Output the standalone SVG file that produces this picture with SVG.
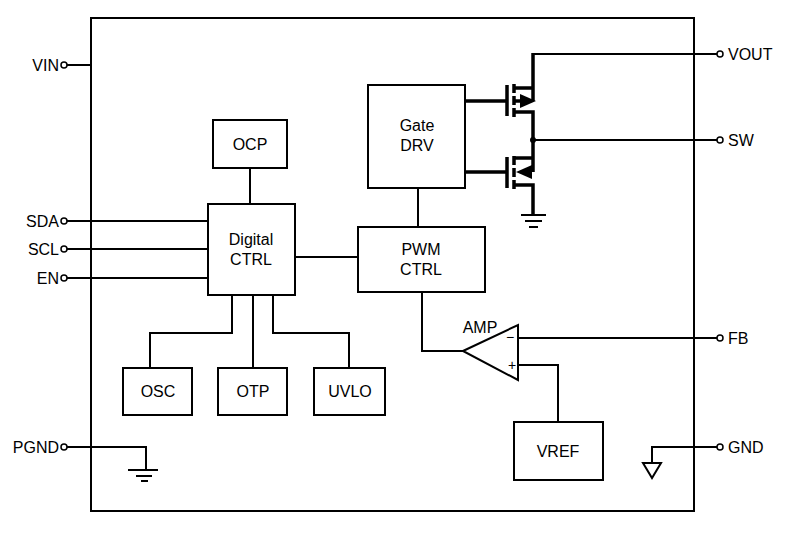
<svg xmlns="http://www.w3.org/2000/svg" width="804" height="535" viewBox="0 0 804 535">
<defs><style>
.b{fill:#fff;stroke:#000;stroke-width:2}
.w{fill:none;stroke:#000;stroke-width:2}
.t{stroke-width:3.5}
.p{fill:#fff;stroke:#000;stroke-width:1.5}
text{font-family:"Liberation Sans",Arial,sans-serif;font-size:16px;fill:#000}
.m{text-anchor:middle}
.e{text-anchor:end}
</style></defs>
<rect width="804" height="535" fill="#fff"/>
<rect id="chip" x="91" y="18" width="603" height="493" class="b"/>
<g id="connectors">
<path class="w" d="M67 65H91M67 221H208M67 249H208M67 278H208M67 447H146V469"/>
<path class="w" d="M250 168V204M295 257H358M418 188V227M232 295V333H150V368M253 295V368M273 295V333H349V368"/>
<path class="w" d="M422 292V351H463M518 338H717M518 365H558V422"/>
<path class="w" d="M533 54H717M533 140H717M717 447H652V463"/>
<path d="M128 470H158M136 476H152M141 481H148" class="w"/>
<path d="M643 463H661L652 478Z" class="w"/>
<path class="w t" d="M465 101H507M507 85V116M514 84V93M514 96V105M514 108V117M514 88H533M533 53V101M514 112H533V158M514 158H533V172M514 185H533V215"/>
<path class="w t" d="M514 101H522"/>
<path d="M536 101L520 94V108Z"/>
<path d="M516 172L532 165V179Z"/>
<path class="w t" d="M465 172H507M507 157V188M514 156V165M514 168V177M514 180V189"/>
<circle cx="533" cy="140" r="3"/>
<path class="w" d="M521 215H546M525 221H542M529 227H538"/>
</g>
<g id="pins">
<circle cx="64" cy="65" r="3" class="p"/><text x="59" y="71" class="e">VIN</text>
<circle cx="64" cy="221" r="3" class="p"/><text x="59" y="227" class="e">SDA</text>
<circle cx="64" cy="249" r="3" class="p"/><text x="59" y="255" class="e">SCL</text>
<circle cx="64" cy="278" r="3" class="p"/><text x="59" y="284" class="e">EN</text>
<circle cx="64" cy="447" r="3" class="p"/><text x="59" y="453" class="e">PGND</text>
<circle cx="720" cy="54" r="3" class="p"/><text x="728" y="60">VOUT</text>
<circle cx="720" cy="140" r="3" class="p"/><text x="728" y="146">SW</text>
<circle cx="720" cy="338" r="3" class="p"/><text x="728" y="344">FB</text>
<circle cx="720" cy="447" r="3" class="p"/><text x="728" y="453">GND</text>
</g>
<g id="ocp"><rect x="213" y="120" width="74" height="48" class="b"/><text x="250" y="150" class="m">OCP</text></g>
<g id="digital"><rect x="208" y="204" width="87" height="91" class="b"/><text x="251" y="245" class="m">Digital</text><text x="251" y="265" class="m">CTRL</text></g>
<g id="gatedrv"><rect x="368" y="85" width="97" height="103" class="b"/><text x="417" y="131" class="m">Gate</text><text x="417" y="151" class="m">DRV</text></g>
<g id="pwm"><rect x="358" y="227" width="127" height="65" class="b"/><text x="421" y="255" class="m">PWM</text><text x="421" y="275" class="m">CTRL</text></g>
<g id="osc"><rect x="123" y="368" width="69" height="47" class="b"/><text x="158" y="397" class="m">OSC</text></g>
<g id="otp"><rect x="218" y="368" width="69" height="47" class="b"/><text x="253" y="397" class="m">OTP</text></g>
<g id="uvlo"><rect x="314" y="368" width="71" height="47" class="b"/><text x="350" y="397" class="m">UVLO</text></g>
<g id="vref"><rect x="514" y="422" width="89" height="58" class="b"/><text x="558" y="457" class="m">VREF</text></g>
<g id="amp"><path d="M463 351L518 325V380Z" class="b"/><text x="480" y="333" class="m">AMP</text>
<text x="510" y="342" class="m" style="font-size:14px">−</text><text x="512" y="370" class="m" style="font-size:14px">+</text></g>
</svg>
